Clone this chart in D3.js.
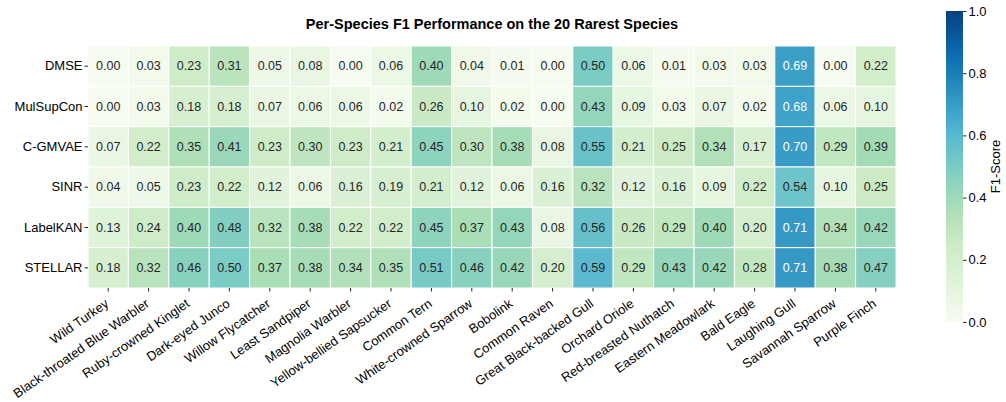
<!DOCTYPE html>
<html>
<head>
<meta charset="utf-8">
<script src="https://cdn.jsdelivr.net/npm/d3@7"></script>
<style>
  body { margin: 0; background: #fff; }
  svg { font-family: "Liberation Sans", Arial, sans-serif; }
</style>
</head>
<body>
<svg id="chart" width="1006" height="402"></svg>
<script>
// species (columns)
const species = ["Wild Turkey", "Black-throated Blue Warbler", "Ruby-crowned Kinglet", "Dark-eyed Junco",
  "Willow Flycatcher", "Least Sandpiper", "Magnolia Warbler", "Yellow-bellied Sapsucker", "Common Tern",
  "White-crowned Sparrow", "Bobolink", "Common Raven", "Great Black-backed Gull", "Orchard Oriole",
  "Red-breasted Nuthatch", "Eastern Meadowlark", "Bald Eagle", "Laughing Gull", "Savannah Sparrow", "Purple Finch"];

// models (rows)
const models = ["DMSE", "MulSupCon", "C-GMVAE", "SINR", "LabelKAN", "STELLAR"];

const dmse      = [0.00, 0.03, 0.23, 0.31, 0.05, 0.08, 0.00, 0.06, 0.40, 0.04, 0.01, 0.00, 0.50, 0.06, 0.01, 0.03, 0.03, 0.69, 0.00, 0.22];
const mulSupCon = [0.00, 0.03, 0.18, 0.18, 0.07, 0.06, 0.06, 0.02, 0.26, 0.10, 0.02, 0.00, 0.43, 0.09, 0.03, 0.07, 0.02, 0.68, 0.06, 0.10];
const cGmvae    = [0.07, 0.22, 0.35, 0.41, 0.23, 0.30, 0.23, 0.21, 0.45, 0.30, 0.38, 0.08, 0.55, 0.21, 0.25, 0.34, 0.17, 0.70, 0.29, 0.39];
const sinr      = [0.04, 0.05, 0.23, 0.22, 0.12, 0.06, 0.16, 0.19, 0.21, 0.12, 0.06, 0.16, 0.32, 0.12, 0.16, 0.09, 0.22, 0.54, 0.10, 0.25];
const labelKan  = [0.13, 0.24, 0.40, 0.48, 0.32, 0.38, 0.22, 0.22, 0.45, 0.37, 0.43, 0.08, 0.56, 0.26, 0.29, 0.40, 0.20, 0.71, 0.34, 0.42];
const stellar   = [0.18, 0.32, 0.46, 0.50, 0.37, 0.38, 0.34, 0.35, 0.51, 0.46, 0.42, 0.20, 0.59, 0.29, 0.43, 0.42, 0.28, 0.71, 0.38, 0.47];

const colorbarTicks = [0.0, 0.2, 0.4, 0.6, 0.8, 1.0];

const rows = [dmse, mulSupCon, cGmvae, sinr, labelKan, stellar];
const cells = [];
rows.forEach((vals, i) => vals.forEach((v, j) => cells.push({ model: models[i], species: species[j], value: v })));

// matplotlib GnBu stops
const gnbu = ["#f7fcf0", "#e0f3db", "#ccebc5", "#a8ddb5", "#7bccc4", "#4eb3d3", "#2b8cbe", "#0868ac", "#084081"];
const color = d3.scaleLinear()
  .domain(d3.range(gnbu.length).map(i => i / (gnbu.length - 1)))
  .range(gnbu)
  .interpolate(d3.interpolateRgb);

function luminance(c) {
  const rgb = d3.rgb(c);
  const f = v => { v /= 255; return v <= 0.03928 ? v / 12.92 : Math.pow((v + 0.055) / 1.055, 2.4); };
  return 0.2126 * f(rgb.r) + 0.7152 * f(rgb.g) + 0.0722 * f(rgb.b);
}

const svg = d3.select("#chart");
const margin = { left: 88, top: 46, right: 110, bottom: 114 };
const width = 1006 - margin.left - margin.right;
const height = 402 - margin.top - margin.bottom;

const x = d3.scaleBand().domain(species).range([0, width]);
const y = d3.scaleBand().domain(models).range([0, height]);

const g = svg.append("g").attr("transform", `translate(${margin.left},${margin.top})`);

g.selectAll("rect.cell")
  .data(cells)
  .enter().append("rect")
  .attr("class", "cell")
  .attr("x", d => x(d.species))
  .attr("y", d => y(d.model))
  .attr("width", x.bandwidth())
  .attr("height", y.bandwidth())
  .attr("fill", d => color(d.value))
  .attr("stroke", "#fff")
  .attr("stroke-width", 1);

g.selectAll("text.val")
  .data(cells)
  .enter().append("text")
  .attr("class", "val")
  .attr("x", d => x(d.species) + x.bandwidth() / 2)
  .attr("y", d => y(d.model) + y.bandwidth() / 2)
  .attr("text-anchor", "middle")
  .attr("dominant-baseline", "central")
  .attr("font-size", 12.5)
  .attr("fill", d => luminance(color(d.value)) > 0.408 ? "#262626" : "#fff")
  .text(d => d.value.toFixed(2));

// left axis
const yAxis = g.append("g").call(d3.axisLeft(y).tickSize(3.5).tickPadding(2));
yAxis.select(".domain").remove();
yAxis.selectAll("line").attr("stroke", "#262626");
yAxis.selectAll("text").attr("font-size", 13).attr("fill", "#000").attr("font-family", null);

// bottom axis
const xAxis = g.append("g").attr("transform", `translate(0,${height})`)
  .call(d3.axisBottom(x).tickSize(3.5).tickPadding(2));
xAxis.select(".domain").remove();
xAxis.selectAll("line").attr("stroke", "#262626");
xAxis.selectAll("text")
  .attr("font-size", 13)
  .attr("fill", "#000")
  .attr("font-family", null)
  .attr("text-anchor", "end")
  .attr("dy", null)
  .attr("y", 0)
  .attr("transform", "translate(1.5,17.5) rotate(-35)");

// title
svg.append("text")
  .attr("x", margin.left + width / 2)
  .attr("y", 29)
  .attr("text-anchor", "middle")
  .attr("font-size", 14.5)
  .attr("font-weight", "bold")
  .text("Per-Species F1 Performance on the 20 Rarest Species");

// colorbar
const cbX = 946, cbW = 17, cbTop = 11, cbBottom = 322;
const cbScale = d3.scaleLinear().domain([0, 1]).range([cbBottom, cbTop]);
const defs = svg.append("defs");
const grad = defs.append("linearGradient").attr("id", "cbgrad")
  .attr("x1", 0).attr("y1", 1).attr("x2", 0).attr("y2", 0);
grad.selectAll("stop")
  .data(d3.range(0, 1.0001, 0.05))
  .enter().append("stop")
  .attr("offset", d => d)
  .attr("stop-color", d => color(d));
svg.append("rect")
  .attr("x", cbX).attr("y", cbTop)
  .attr("width", cbW).attr("height", cbBottom - cbTop)
  .attr("fill", "url(#cbgrad)");

const cbAxis = svg.append("g").attr("transform", `translate(${cbX + cbW},0)`)
  .call(d3.axisRight(cbScale).tickValues(colorbarTicks).tickFormat(d3.format(".1f")).tickSize(3.5).tickPadding(2));
cbAxis.select(".domain").remove();
cbAxis.selectAll("line").attr("stroke", "#262626");
cbAxis.selectAll("text").attr("font-size", 13).attr("fill", "#000").attr("font-family", null);

svg.append("text")
  .attr("transform", `translate(1000,${(cbTop + cbBottom) / 2}) rotate(-90)`)
  .attr("text-anchor", "middle")
  .attr("font-size", 13)
  .text("F1-Score");
</script>
</body>
</html>
